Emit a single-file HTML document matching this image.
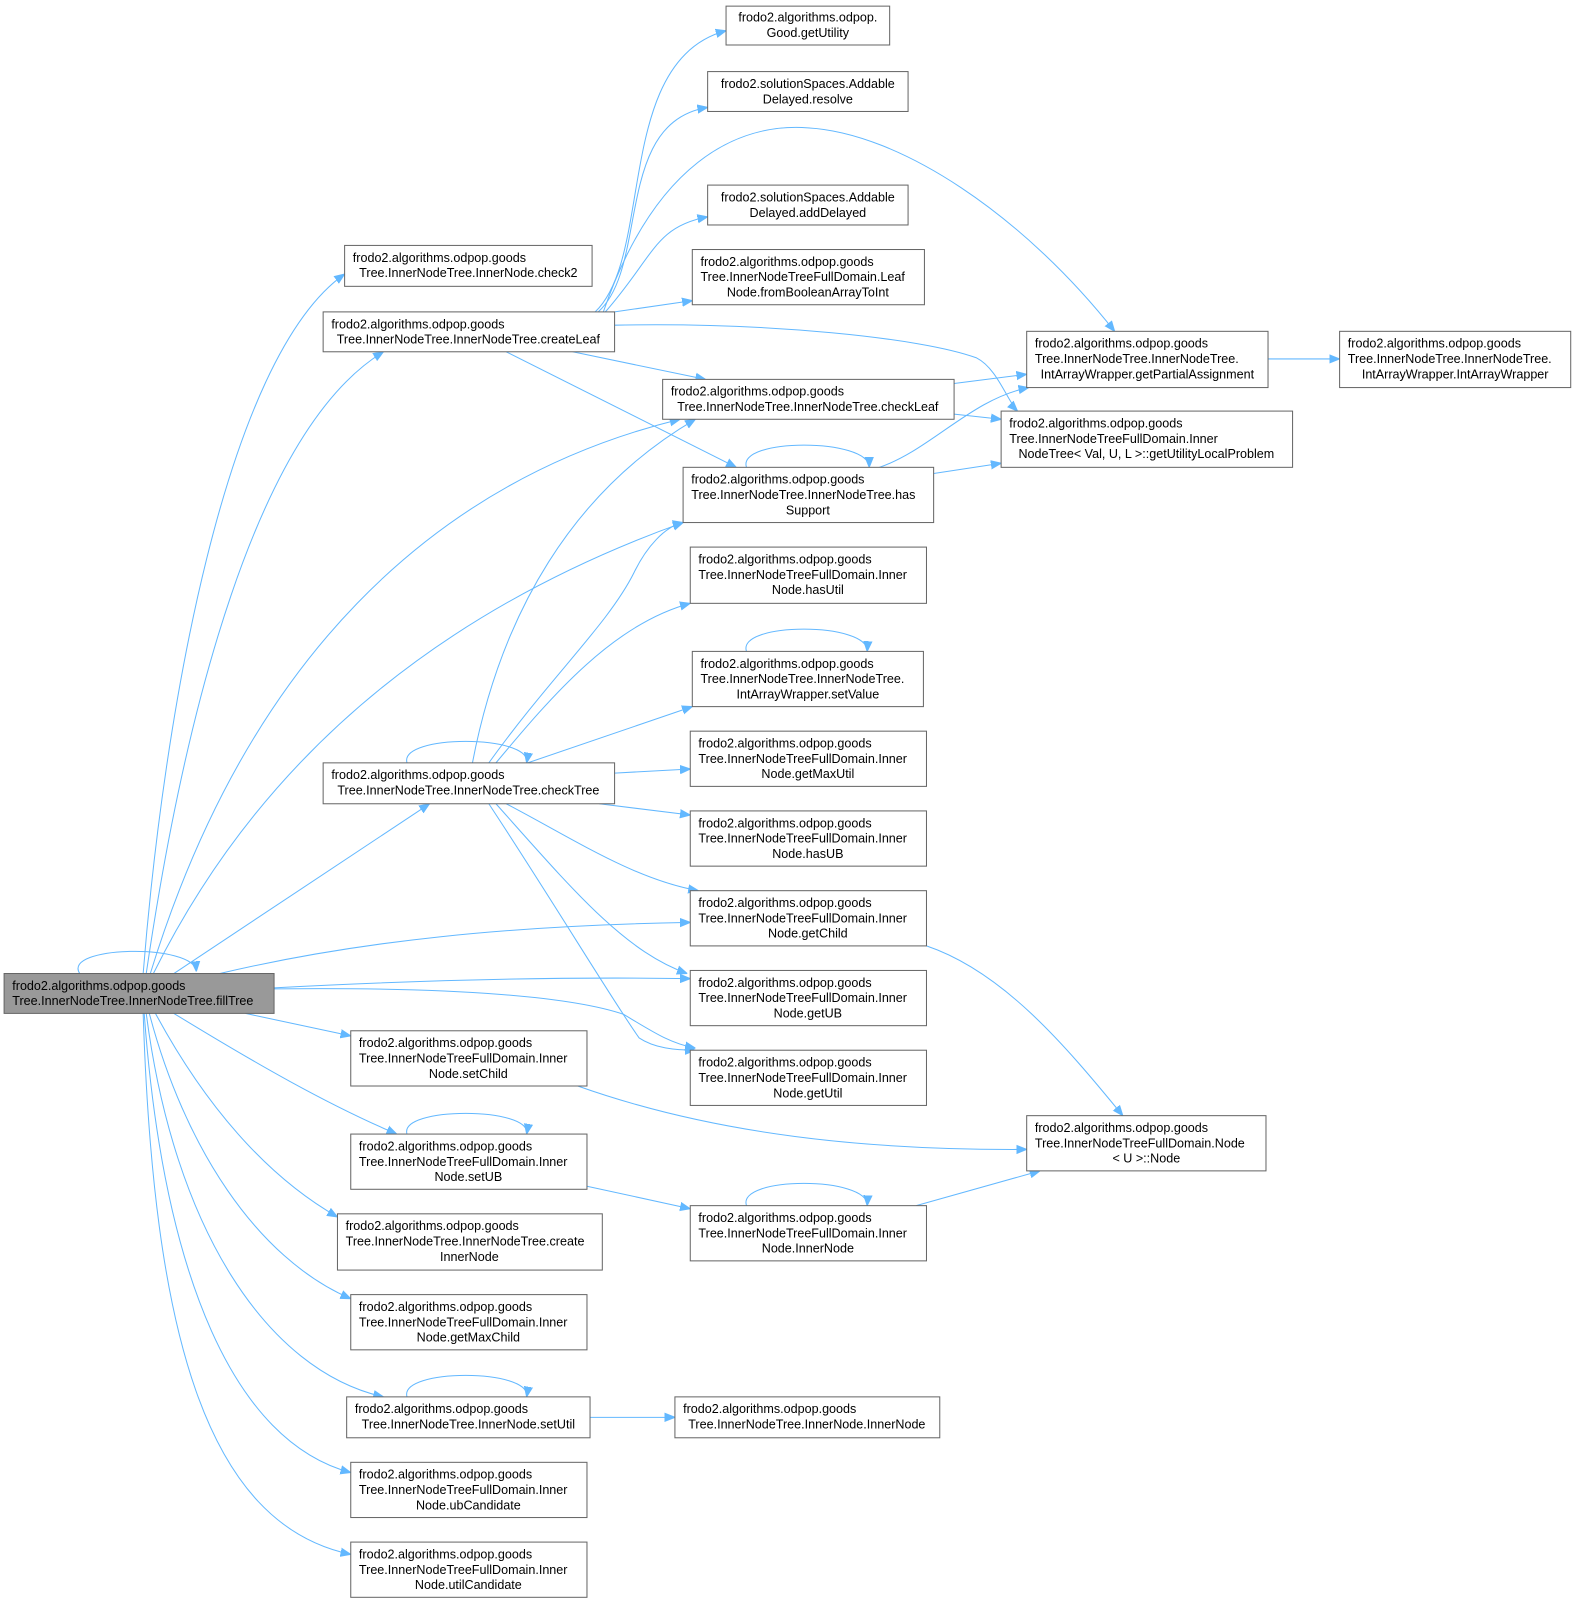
<!DOCTYPE html>
<html><head><meta charset="utf-8"><style>
html,body{margin:0;padding:0;background:#fff;width:1579px;height:1606px;overflow:hidden}
svg{display:block}
text{font-family:"Liberation Sans",Arial,sans-serif;font-size:12.3px;fill:#000}
.b{fill:#fff;stroke:#666;stroke-width:1}
.e{fill:none;stroke:#63b8ff;stroke-width:1}
</style></head><body>
<svg width="1579" height="1606" viewBox="0 0 1544.1 1570.5" xmlns="http://www.w3.org/2000/svg">
<defs><marker id="a" viewBox="0 0 10 10" refX="10" refY="5" markerWidth="10" markerHeight="10" markerUnits="userSpaceOnUse" orient="auto"><path d="M0,1 L10,5 L0,9 z" fill="#63b8ff" stroke="#63b8ff"/></marker></defs>
<g class="e" marker-end="url(#a)">
<!-- fillTree edges -->
<path d="M78,952 C60,925 190,922 192,950"/>
<path d="M140,952 C160,700 220,350 337,268"/>
<path d="M143,952 C180,700 250,420 375,344"/>
<path d="M147,952 C240,650 420,470 665,410"/>
<path d="M150,952 C250,750 420,600 668,511"/>
<path d="M170,952 L420,786"/>
<path d="M215,952 C350,920 500,905 675,902"/>
<path d="M268,966 C420,958 550,955 675,957"/>
<path d="M268,967 C450,965 560,975 610,992 C640,1010 655,1020 680,1025"/>
<path d="M240,991 L343,1013"/>
<path d="M170,991 C250,1040 320,1080 388,1109"/>
<path d="M152,991 C200,1080 260,1150 330,1190"/>
<path d="M146,991 C180,1120 250,1230 343,1270"/>
<path d="M143,991 C170,1200 260,1340 375,1366"/>
<path d="M141,991 C160,1250 230,1410 343,1440"/>
<path d="M140,991 C150,1300 200,1490 343,1520"/>
<!-- createLeaf edges -->
<path d="M582,305 C640,250 600,60 710,30"/>
<path d="M585,305 C635,260 600,120 692,105"/>
<path d="M590,305 C640,160 720,120 790,125 C880,130 1000,210 1090,324"/>
<path d="M592,305 C640,250 640,222 692,212"/>
<path d="M601,305 L677,294"/>
<path d="M601,318 C750,315 900,330 955,350 C975,360 985,392 995,402"/>
<path d="M560,344 L690,371"/>
<path d="M495,344 L720,457"/>
<!-- checkLeaf / hasSupport -->
<path d="M933,375 L1004,366"/>
<path d="M933,405 L979,410"/>
<path d="M730,457 C720,428 850,428 850,457"/>
<path d="M860,457 C910,440 950,390 1006,379"/>
<path d="M913,463 L979,453"/>
<path d="M1240,351 L1310,351"/>
<!-- checkTree edges -->
<path d="M398,746 C390,718 520,718 515,746"/>
<path d="M462,746 C490,600 560,480 680,410"/>
<path d="M478,746 C540,660 595,610 620,560 C632,535 650,515 668,511"/>
<path d="M485,746 C540,680 600,610 675,590"/>
<path d="M516,746 L677,691"/>
<path d="M601,756 L675,752"/>
<path d="M586,786 L675,797"/>
<path d="M495,786 C560,820 620,860 683,871"/>
<path d="M485,786 C560,870 610,930 672,952"/>
<path d="M478,786 C540,880 600,980 625,1015 C640,1025 660,1027 680,1027"/>
<!-- others -->
<path d="M730,637 C720,608 850,608 848,637"/>
<path d="M398,1109 C390,1082 520,1082 515,1109"/>
<path d="M574,1160 L675,1182"/>
<path d="M730,1179 C720,1150 850,1150 848,1179"/>
<path d="M896,1179 L1017,1145"/>
<path d="M906,925 C980,950 1040,1020 1098,1091"/>
<path d="M565,1062 C700,1110 850,1125 1004,1124"/>
<path d="M398,1366 C390,1338 520,1338 515,1366"/>
<path d="M577,1386 L660,1386"/>
</g>

<!-- nodes -->
<rect x="4" y="952" width="264" height="39" fill="#999" stroke="#666"/>
<text x="12" y="968">frodo2.algorithms.odpop.goods</text><text x="12" y="983">Tree.InnerNodeTree.InnerNodeTree.fillTree</text>

<rect class="b" x="337" y="240" width="242" height="40"/>
<text x="345" y="256">frodo2.algorithms.odpop.goods</text><text x="458" y="271" text-anchor="middle">Tree.InnerNodeTree.InnerNode.check2</text>

<rect class="b" x="316" y="305" width="285" height="39"/>
<text x="324" y="321">frodo2.algorithms.odpop.goods</text><text x="458" y="336" text-anchor="middle">Tree.InnerNodeTree.InnerNodeTree.createLeaf</text>

<rect class="b" x="316" y="746" width="285" height="40"/>
<text x="324" y="762">frodo2.algorithms.odpop.goods</text><text x="458" y="777" text-anchor="middle">Tree.InnerNodeTree.InnerNodeTree.checkTree</text>

<g>
<rect class="b" x="343" y="1008" width="231" height="54"/>
<text x="351" y="1024">frodo2.algorithms.odpop.goods</text><text x="351" y="1039">Tree.InnerNodeTreeFullDomain.Inner</text><text x="458" y="1054" text-anchor="middle">Node.setChild</text>
<rect class="b" x="343" y="1109" width="231" height="54"/>
<text x="351" y="1125">frodo2.algorithms.odpop.goods</text><text x="351" y="1140">Tree.InnerNodeTreeFullDomain.Inner</text><text x="458" y="1155" text-anchor="middle">Node.setUB</text>
<rect class="b" x="330" y="1187" width="259" height="55"/>
<text x="338" y="1203">frodo2.algorithms.odpop.goods</text><text x="338" y="1218">Tree.InnerNodeTree.InnerNodeTree.create</text><text x="459" y="1233" text-anchor="middle">InnerNode</text>
<rect class="b" x="343" y="1266" width="231" height="54"/>
<text x="351" y="1282">frodo2.algorithms.odpop.goods</text><text x="351" y="1297">Tree.InnerNodeTreeFullDomain.Inner</text><text x="458" y="1312" text-anchor="middle">Node.getMaxChild</text>
<rect class="b" x="339" y="1366" width="238" height="40"/>
<text x="347" y="1382">frodo2.algorithms.odpop.goods</text><text x="458" y="1397" text-anchor="middle">Tree.InnerNodeTree.InnerNode.setUtil</text>
<rect class="b" x="343" y="1430" width="231" height="54"/>
<text x="351" y="1446">frodo2.algorithms.odpop.goods</text><text x="351" y="1461">Tree.InnerNodeTreeFullDomain.Inner</text><text x="458" y="1476" text-anchor="middle">Node.ubCandidate</text>
<rect class="b" x="343" y="1508" width="231" height="54"/>
<text x="351" y="1524">frodo2.algorithms.odpop.goods</text><text x="351" y="1539">Tree.InnerNodeTreeFullDomain.Inner</text><text x="458" y="1554" text-anchor="middle">Node.utilCandidate</text>
</g>

<rect class="b" x="710" y="6" width="160" height="38"/>
<text x="790" y="21" text-anchor="middle">frodo2.algorithms.odpop.</text><text x="790" y="36" text-anchor="middle">Good.getUtility</text>
<rect class="b" x="692" y="70" width="196" height="39"/>
<text x="790" y="86" text-anchor="middle">frodo2.solutionSpaces.Addable</text><text x="790" y="101" text-anchor="middle">Delayed.resolve</text>
<rect class="b" x="692" y="181" width="196" height="39"/>
<text x="790" y="197" text-anchor="middle">frodo2.solutionSpaces.Addable</text><text x="790" y="212" text-anchor="middle">Delayed.addDelayed</text>
<rect class="b" x="677" y="244" width="227" height="54"/>
<text x="685" y="260">frodo2.algorithms.odpop.goods</text><text x="685" y="275">Tree.InnerNodeTreeFullDomain.Leaf</text><text x="790" y="290" text-anchor="middle">Node.fromBooleanArrayToInt</text>
<rect class="b" x="648" y="371" width="285" height="39"/>
<text x="656" y="387">frodo2.algorithms.odpop.goods</text><text x="790" y="402" text-anchor="middle">Tree.InnerNodeTree.InnerNodeTree.checkLeaf</text>
<rect class="b" x="668" y="457" width="245" height="54"/>
<text x="676" y="473">frodo2.algorithms.odpop.goods</text><text x="676" y="488">Tree.InnerNodeTree.InnerNodeTree.has</text><text x="790" y="503" text-anchor="middle">Support</text>
<rect class="b" x="675" y="535" width="231" height="55"/>
<text x="683" y="551">frodo2.algorithms.odpop.goods</text><text x="683" y="566">Tree.InnerNodeTreeFullDomain.Inner</text><text x="790" y="581" text-anchor="middle">Node.hasUtil</text>
<rect class="b" x="677" y="637" width="226" height="54"/>
<text x="685" y="653">frodo2.algorithms.odpop.goods</text><text x="685" y="668">Tree.InnerNodeTree.InnerNodeTree.</text><text x="790" y="683" text-anchor="middle">IntArrayWrapper.setValue</text>
<rect class="b" x="675" y="715" width="231" height="54"/>
<text x="683" y="731">frodo2.algorithms.odpop.goods</text><text x="683" y="746">Tree.InnerNodeTreeFullDomain.Inner</text><text x="790" y="761" text-anchor="middle">Node.getMaxUtil</text>
<rect class="b" x="675" y="793" width="231" height="54"/>
<text x="683" y="809">frodo2.algorithms.odpop.goods</text><text x="683" y="824">Tree.InnerNodeTreeFullDomain.Inner</text><text x="790" y="839" text-anchor="middle">Node.hasUB</text>
<rect class="b" x="675" y="871" width="231" height="54"/>
<text x="683" y="887">frodo2.algorithms.odpop.goods</text><text x="683" y="902">Tree.InnerNodeTreeFullDomain.Inner</text><text x="790" y="917" text-anchor="middle">Node.getChild</text>
<rect class="b" x="675" y="949" width="231" height="54"/>
<text x="683" y="965">frodo2.algorithms.odpop.goods</text><text x="683" y="980">Tree.InnerNodeTreeFullDomain.Inner</text><text x="790" y="995" text-anchor="middle">Node.getUB</text>
<rect class="b" x="675" y="1027" width="231" height="54"/>
<text x="683" y="1043">frodo2.algorithms.odpop.goods</text><text x="683" y="1058">Tree.InnerNodeTreeFullDomain.Inner</text><text x="790" y="1073" text-anchor="middle">Node.getUtil</text>
<rect class="b" x="675" y="1179" width="231" height="54"/>
<text x="683" y="1195">frodo2.algorithms.odpop.goods</text><text x="683" y="1210">Tree.InnerNodeTreeFullDomain.Inner</text><text x="790" y="1225" text-anchor="middle">Node.InnerNode</text>
<rect class="b" x="660" y="1366" width="259" height="40"/>
<text x="668" y="1382">frodo2.algorithms.odpop.goods</text><text x="789" y="1397" text-anchor="middle">Tree.InnerNodeTree.InnerNode.InnerNode</text>

<rect class="b" x="1004" y="324" width="236" height="55"/>
<text x="1012" y="340">frodo2.algorithms.odpop.goods</text><text x="1012" y="355">Tree.InnerNodeTree.InnerNodeTree.</text><text x="1122" y="370" text-anchor="middle">IntArrayWrapper.getPartialAssignment</text>
<rect class="b" x="1310" y="324" width="226" height="55"/>
<text x="1318" y="340">frodo2.algorithms.odpop.goods</text><text x="1318" y="355">Tree.InnerNodeTree.InnerNodeTree.</text><text x="1423" y="370" text-anchor="middle">IntArrayWrapper.IntArrayWrapper</text>
<rect class="b" x="979" y="402" width="285" height="55"/>
<text x="987" y="418">frodo2.algorithms.odpop.goods</text><text x="987" y="433">Tree.InnerNodeTreeFullDomain.Inner</text><text x="1121" y="448" text-anchor="middle">NodeTree&lt; Val, U, L &gt;::getUtilityLocalProblem</text>
<rect class="b" x="1004" y="1091" width="234" height="54"/>
<text x="1012" y="1107">frodo2.algorithms.odpop.goods</text><text x="1012" y="1122">Tree.InnerNodeTreeFullDomain.Node</text><text x="1121" y="1137" text-anchor="middle">&lt; U &gt;::Node</text>
</svg>
</body></html>
